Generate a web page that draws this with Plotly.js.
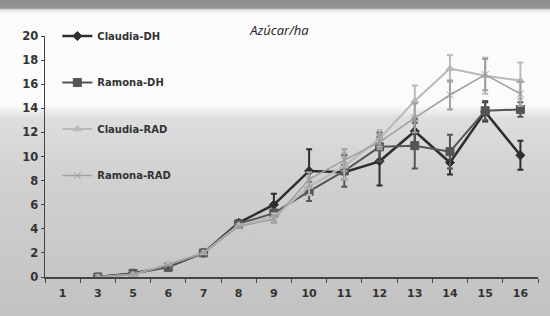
<!DOCTYPE html>
<html>
<head>
<meta charset="utf-8">
<script src="https://cdn.plot.ly/plotly-3.0.1.min.js"></script>
<style>
html,body{margin:0;padding:0;}
#wrap{width:550px;height:316px;position:relative;
background:linear-gradient(to bottom,#8d8d8d 0px,#929292 8px,#e8e8e8 10px,#fbfbfb 14px,#fbfbfb 105px,#dedede 118px,#d2d2d2 170px,#c8c8c8 260px,#c2c2c2 316px);}
#chart{width:550px;height:316px;}
</style>
</head>
<body>
<div id="wrap"><div id="chart"></div></div>
<script>
const categories = ["1","3","5","6","7","8","9","10","11","12","13","14","15","16"];
const claudiaDH = [null,0,0.3,0.9,2.0,4.5,6.0,8.8,8.7,9.6,12.1,9.5,13.7,10.1];
const ramonaDH  = [null,0,0.3,0.8,2.0,4.4,5.3,7.1,8.8,10.8,10.9,10.4,13.8,13.9];
const claudiaRAD= [null,0,0.2,1.1,2.0,4.3,5.0,7.5,9.2,11.5,14.6,17.3,16.7,16.3];
const ramonaRAD = [null,0,0.2,1.0,2.0,4.2,4.8,8.1,9.7,11.2,13.2,15.1,16.8,15.2];
const claudiaDHErr = [0,0,0,0.2,0,0.2,0.9,1.8,0.6,2.0,1.0,1.0,0.8,1.2];
const ramonaDHErr  = [0,0,0,0,0,0,0.3,0.8,1.3,1.2,1.9,1.4,0.8,0.6];
const claudiaRADErr= [0,0,0,0,0,0,0.3,0.7,1.1,0.7,1.3,1.1,1.5,1.5];
const ramonaRADErr = [0,0,0,0,0,0,0.3,0.6,0.9,0.6,1.2,1.2,1.3,1.0];
const names = ["Claudia-DH","Ramona-DH","Claudia-RAD","Ramona-RAD"];

function tr(name, y, err, color, sym, size, width, grp){
  return {x: categories, y: y, name: name, type: "scatter", mode: "lines+markers",
    legendgroup: grp,
    line: {color: color, width: width},
    marker: {color: color, symbol: sym, size: size, line:{color: color, width: 1}},
    error_y: {type: "data", array: err, visible: true, color: color, thickness: 2, width: 3},
    connectgaps: false};
}
const data = [
  tr(names[0], claudiaDH, claudiaDHErr, "#2e2e2e", "diamond", 7, 2.5, "a"),
  tr(names[1], ramonaDH, ramonaDHErr, "#555555", "square", 8, 2, "b"),
  tr(names[2], claudiaRAD, claudiaRADErr, "#b9b9b9", "triangle-up", 7, 2, "c"),
  tr(names[3], ramonaRAD, ramonaRADErr, "#a0a0a0", "x-thin", 7, 1.6, "d")
];
const layout = {
  width: 550, height: 316,
  paper_bgcolor: "rgba(0,0,0,0)", plot_bgcolor: "rgba(0,0,0,0)",
  margin: {l: 45, r: 12, t: 36, b: 39},
  title: {text: "<i>Azúcar/ha</i>", x: 0.508, xanchor: "center", y: 0.905, yanchor: "middle",
    font: {family: "Open Sans, Noto Sans, sans-serif", size: 13, color: "#222"}},
  xaxis: {type: "category", range: [-0.5, 13.5], automargin: false, showgrid: false, zeroline: false, showline: true, linecolor: "#444", linewidth: 1.5,
    ticks: "outside", tickson: "boundaries", ticklen: 4, tickcolor: "#444", ticklabelstandoff: 5,
    tickfont: {family: "DejaVu Sans, Verdana, sans-serif", size: 11, color: "#333", weight: "bold"},
    fixedrange: true},
  yaxis: {range: [0, 20], dtick: 2, automargin: false, showgrid: false, zeroline: false, showline: true, linecolor: "#444", linewidth: 1.5,
    ticks: "outside", ticklen: 3, tickcolor: "#444",
    tickfont: {family: "DejaVu Sans, Verdana, sans-serif", size: 11.5, color: "#333", weight: "bold"}},
  showlegend: true,
  legend: {x: 0.025, y: 1.06, xanchor: "left", yanchor: "top", bgcolor: "rgba(0,0,0,0)",
    traceorder: "grouped", tracegroupgap: 27.5, itemwidth: 30,
    font: {family: "DejaVu Sans, Verdana, sans-serif", size: 10, color: "#333", weight: "bold"}}
};
Plotly.newPlot("chart", data, layout, {staticPlot: true});
</script>
</body>
</html>
